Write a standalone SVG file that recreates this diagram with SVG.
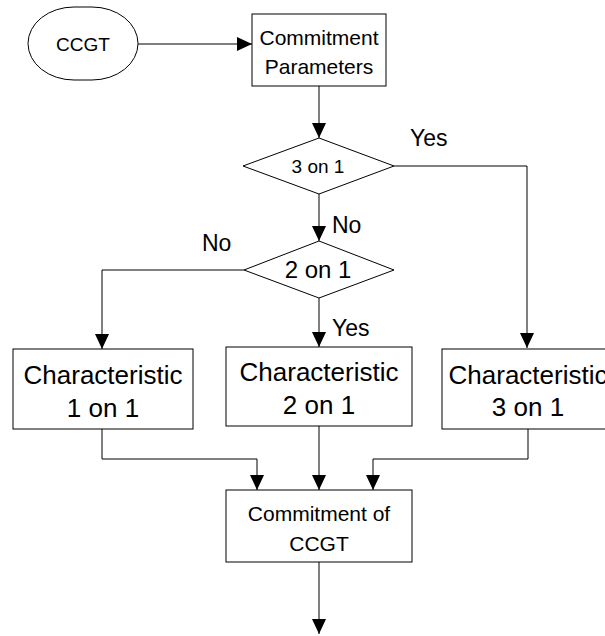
<svg xmlns="http://www.w3.org/2000/svg" width="605" height="636" viewBox="0 0 605 636">
<style>
  .shape { fill: #ffffff; stroke: #000000; stroke-width: 1; }
  .conn { fill: none; stroke: #000000; stroke-width: 1; }
  text { font-family: "Liberation Sans", Arial, Helvetica, sans-serif; fill: #000000; text-anchor: middle; }
  .lbl { font-size: 23px; text-anchor: start; }
  .big { font-size: 26px; }
  .mid { font-size: 21px; }
</style>
<defs>
  <marker id="arrow" markerWidth="15" markerHeight="14" refX="15" refY="7" orient="auto" markerUnits="userSpaceOnUse">
    <path d="M0,0 L15,7 L0,14 Z" fill="#000000"/>
  </marker>
</defs>
<rect width="605" height="636" fill="#ffffff"/>

<g id="connectors">
  <path class="conn" d="M138,44 L252,44" marker-end="url(#arrow)"/>
  <path class="conn" d="M319,86 L319,138" marker-end="url(#arrow)"/>
  <path class="conn" d="M394,166 L527,166 L527,348" marker-end="url(#arrow)"/>
  <path class="conn" d="M319,194 L319,241" marker-end="url(#arrow)"/>
  <path class="conn" d="M244,270 L102,270 L102,349" marker-end="url(#arrow)"/>
  <path class="conn" d="M319,298 L319,347" marker-end="url(#arrow)"/>
  <path class="conn" d="M102,429 L102,459 L257,459 L257,490" marker-end="url(#arrow)"/>
  <path class="conn" d="M319,426 L319,490" marker-end="url(#arrow)"/>
  <path class="conn" d="M528,429 L528,459 L373,459 L373,490" marker-end="url(#arrow)"/>
  <path class="conn" d="M319,562 L319,634" marker-end="url(#arrow)"/>
  <text class="lbl" x="410" y="146">Yes</text>
  <text class="lbl" x="332" y="233">No</text>
  <text class="lbl" x="202" y="251">No</text>
  <text class="lbl" x="332" y="336">Yes</text>
</g>

<g id="ccgt">
  <rect class="shape" x="28" y="7" width="110" height="73" rx="46" ry="36.5"/>
  <text x="83" y="51" font-size="19">CCGT</text>
</g>

<g id="commitment-parameters">
  <rect class="shape" x="252" y="14" width="134" height="72"/>
  <text class="mid" x="319" y="45">Commitment</text>
  <text class="mid" x="319" y="74">Parameters</text>
</g>

<g id="decision-3on1">
  <polygon class="shape" points="319,138 394,166 319,194 243,166"/>
  <text x="318" y="173" font-size="19">3 on 1</text>
</g>

<g id="decision-2on1">
  <polygon class="shape" points="319,241 394,270 319,298 244,270"/>
  <text x="318" y="278" font-size="24">2 on 1</text>
</g>

<g id="char-1on1">
  <rect class="shape" x="13" y="349" width="180" height="80"/>
  <text class="big" x="103" y="384">Characteristic</text>
  <text class="big" x="103" y="417">1 on 1</text>
</g>

<g id="char-2on1">
  <rect class="shape" x="226" y="347" width="186" height="79"/>
  <text class="big" x="319" y="381">Characteristic</text>
  <text class="big" x="319" y="414">2 on 1</text>
</g>

<g id="char-3on1">
  <rect class="shape" x="442" y="349" width="180" height="80"/>
  <text class="big" x="528" y="384">Characteristic</text>
  <text class="big" x="528" y="416">3 on 1</text>
</g>

<g id="commitment-ccgt">
  <rect class="shape" x="226" y="490" width="186" height="72"/>
  <text class="mid" x="319" y="521">Commitment of</text>
  <text class="mid" x="319" y="551">CCGT</text>
</g>
</svg>
